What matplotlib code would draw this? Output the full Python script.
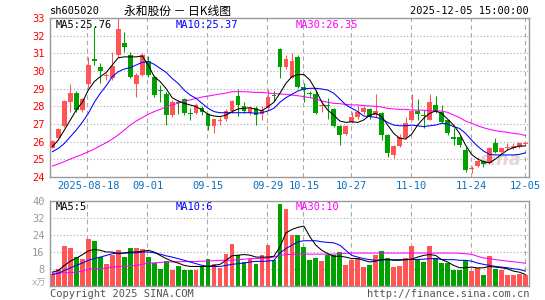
import matplotlib
matplotlib.use('Agg')
import matplotlib.pyplot as plt

plt.rcParams['font.family'] = ['DejaVu Sans Mono', 'Noto Sans CJK SC']

# daily candles 2025-08-08 .. 2025-12-05
opens = [25.66, 26.23, 26.9, 28.25, 28.74, 27.79, 29.25, 30.66, 30.2, 29.7,
         29.62, 30.9, 31.6, 30.9, 29.25, 29.77, 30.57, 29.68, 28.9, 28.68,
         27.5, 28.2, 28.42, 27.62, 27.6, 27.9, 27.55, 26.9, 27.15, 27.26,
         27.74, 28.6, 28.02, 27.6, 27.9, 27.57, 27.9, 28.6, 31.25, 30.25,
         29.62, 30.8, 29.1, 28.78, 28.7, 28.0, 28.06, 27.85, 26.9, 26.43,
         27.13, 27.4, 27.66, 27.85, 27.5, 27.64, 26.38, 25.25, 25.77, 26.19,
         27.23, 27.75, 27.5, 27.25, 28.07, 27.7, 27.2, 26.28, 26.24, 25.53,
         24.45, 24.64, 24.92, 24.8, 25.9, 25.4, 25.62, 25.66, 25.72, 25.85]
highs = [26.1, 26.8, 28.35, 29.25, 28.87, 28.47, 30.77, 32.5, 30.43, 29.9,
         31.1, 33.0, 32.2, 31.1, 29.9, 31.0, 30.87, 29.8, 29.2, 28.8,
         28.36, 28.36, 28.45, 27.9, 28.17, 28.0, 27.6, 27.3, 27.4, 27.83,
         28.36, 29.0, 28.27, 28.02, 28.0, 28.02, 29.0, 28.85, 31.28, 30.9,
         31.0, 30.9, 29.3, 28.87, 28.92, 28.3, 28.45, 27.9, 26.95, 26.95,
         27.7, 28.1, 28.0, 27.9, 28.7, 27.7, 26.45, 25.8, 26.45, 27.38,
         28.7, 28.4, 27.8, 28.7, 28.6, 28.1, 27.25, 26.75, 26.3, 25.72,
         24.6, 25.15, 24.95, 25.68, 26.2, 25.66, 25.9, 25.9, 25.96, 26.02]
lows = [25.62, 26.18, 26.85, 27.7, 27.7, 27.7, 29.02, 30.34, 29.3, 29.5,
        29.5, 30.8, 31.1, 29.6, 28.55, 29.7, 29.68, 28.55, 28.26, 26.94,
        27.4, 27.55, 27.5, 27.2, 27.55, 27.5, 26.66, 26.47, 26.95, 27.15,
        27.6, 27.47, 27.6, 27.5, 26.94, 27.2, 27.8, 28.3, 29.62, 30.1,
        29.58, 29.05, 28.22, 28.55, 27.57, 27.66, 27.3, 26.85, 25.8, 26.38,
        27.05, 27.3, 27.55, 27.3, 27.4, 26.1, 25.15, 25.1, 25.72, 26.15,
        27.2, 27.2, 26.76, 27.2, 27.65, 27.08, 26.4, 25.8, 25.7, 24.3,
        24.2, 24.58, 24.58, 24.75, 25.35, 25.35, 25.55, 25.6, 25.66, 25.8]
closes = [26.04, 26.72, 28.28, 28.74, 27.79, 28.42, 30.34, 30.57, 30.0, 29.8,
          30.3, 32.38, 31.38, 29.68, 29.8, 30.9, 29.8, 28.64, 28.87, 27.5,
          28.23, 28.17, 27.6, 27.58, 28.1, 27.7, 26.9, 27.28, 27.17, 27.75,
          28.3, 28.08, 27.75, 27.9, 27.5, 27.8, 28.55, 28.57, 30.2, 30.7,
          30.58, 29.1, 28.9, 28.72, 27.64, 28.04, 28.02, 26.9, 26.4, 26.9,
          27.4, 27.7, 27.9, 27.4, 27.73, 26.36, 25.34, 25.75, 26.28, 27.03,
          27.75, 27.57, 27.43, 28.26, 27.7, 27.13, 26.47, 26.13, 25.8, 24.4,
          24.47, 24.92, 24.72, 25.62, 25.4, 25.62, 25.66, 25.75, 25.9, 25.9]
volumes = [5.8, 8.1, 18.8, 17.8, 13.5, 12.9, 22.1, 21.2, 13.5, 10.2,
           14.5, 16.9, 13.5, 18.1, 18.1, 17.4, 13.5, 10.8, 8.2, 11.7,
           7.7, 9.5, 7.7, 7.7, 7.5, 9.2, 12.9, 10.3, 8.4, 15.2,
           20.0, 14.7, 11.2, 12.9, 10.2, 14.7, 19.2, 12.3, 38.7, 36.3,
           23.9, 23.9, 18.4, 12.2, 13.2, 11.6, 14.8, 14.4, 16.0, 9.7,
           12.1, 13.4, 8.9, 9.7, 14.4, 16.3, 13.4, 8.9, 9.2, 13.2,
           18.9, 12.5, 11.3, 18.9, 13.4, 10.6, 10.6, 7.7, 7.7, 12.4,
           6.9, 8.4, 5.3, 13.9, 7.9, 7.5, 5.2, 5.0, 5.5, 5.1]

ma5 = [25.72, 26.1, 26.66, 27.23, 27.8, 28.23, 28.92, 29.4, 29.68, 29.92,
       30.34, 30.75, 30.8, 30.8, 30.8, 30.85, 30.34, 29.68, 29.4, 29.0,
       28.49, 28.3, 28.17, 28.08, 27.98, 27.79, 27.55, 27.45, 27.42, 27.5,
       27.7, 27.85, 27.89, 27.92, 27.83, 27.75, 27.98, 28.23, 28.74, 29.3,
       29.68, 29.8, 29.8, 29.49, 28.92, 28.23, 27.79, 27.5, 27.17, 27.09,
       27.13, 27.09, 27.23, 27.5, 27.6, 27.42, 26.94, 26.47, 26.19, 26.15,
       26.42, 26.94, 27.32, 27.6, 27.74, 27.6, 27.28, 26.94, 26.47, 25.81,
       25.28, 25.02, 24.87, 24.8, 25.02, 25.28, 25.53, 25.66, 25.75, 25.76]
ma10 = [25.43, 25.62, 25.9, 26.28, 26.66, 27.1, 27.6, 28.23, 28.74, 29.17,
        29.68, 29.96, 30.11, 30.19, 30.34, 30.49, 30.53, 30.38, 30.15, 29.92,
        29.58, 29.3, 28.92, 28.64, 28.45, 28.17, 27.89, 27.7, 27.64, 27.64,
        27.64, 27.64, 27.64, 27.64, 27.6, 27.64, 27.74, 27.89, 28.23, 28.49,
        28.68, 28.87, 28.98, 29.02, 29.02, 28.98, 28.92, 28.74, 28.42, 28.08,
        27.89, 27.7, 27.45, 27.42, 27.38, 27.28, 27.09, 26.94, 26.9, 26.9,
        26.94, 26.9, 26.85, 26.9, 26.94, 27.04, 27.0, 26.85, 26.75, 26.47,
        26.09, 25.75, 25.47, 25.28, 25.25, 25.25, 25.25, 25.25, 25.28, 25.37]
ma30 = [24.62, 24.74, 24.87, 25.02, 25.15, 25.28, 25.43, 25.58, 25.77, 25.94,
        26.15, 26.38, 26.66, 26.94, 27.17, 27.36, 27.55, 27.7, 27.83, 27.98,
        28.08, 28.17, 28.3, 28.36, 28.45, 28.53, 28.58, 28.64, 28.7, 28.75,
        28.83, 28.83, 28.83, 28.81, 28.79, 28.79, 28.75, 28.72, 28.7, 28.68,
        28.64, 28.6, 28.55, 28.49, 28.42, 28.3, 28.23, 28.17, 28.15, 28.11,
        28.08, 28.08, 28.04, 28.02, 28.0, 27.96, 27.89, 27.85, 27.83, 27.83,
        27.79, 27.79, 27.78, 27.75, 27.75, 27.73, 27.66, 27.51, 27.36, 27.17,
        27.04, 26.9, 26.79, 26.7, 26.62, 26.57, 26.53, 26.47, 26.43, 26.35]

vma5 = [6.5, 7.3, 9.7, 11.7, 13.1, 14.7, 16.5, 17.2, 16.8, 16.0,
        16.0, 15.2, 15.5, 16.0, 16.0, 16.3, 16.8, 16.0, 14.4, 12.9,
        11.7, 10.8, 9.7, 9.2, 9.2, 9.2, 9.2, 9.7, 10.2, 12.1,
        14.2, 14.5, 14.8, 14.5, 13.6, 13.6, 13.6, 14.0, 18.4, 25.0,
        26.6, 27.6, 28.2, 23.2, 19.2, 16.8, 15.2, 14.0, 14.0, 13.6,
        12.9, 12.9, 12.1, 11.3, 11.7, 12.5, 12.5, 12.1, 12.1, 12.4,
        12.7, 13.6, 14.4, 14.8, 14.4, 12.4, 11.3, 9.7, 8.6, 8.6,
        8.9, 8.5, 8.6, 9.2, 8.9, 8.6, 8.1, 7.0, 6.5, 5.4]
vma10 = [5.4, 6.0, 7.3, 8.5, 9.7, 10.8, 12.1, 12.9, 13.6, 14.4,
         15.2, 15.5, 15.5, 15.6, 15.6, 16.0, 16.0, 15.6, 15.0, 14.2,
         13.6, 12.9, 12.1, 11.3, 10.5, 9.7, 9.2, 9.2, 9.2, 9.7,
         10.2, 10.5, 10.8, 11.3, 11.6, 11.6, 11.7, 12.1, 15.5, 17.6,
         19.2, 20.8, 21.3, 21.3, 21.3, 20.8, 20.5, 20.3, 19.2, 16.8,
         14.4, 13.6, 12.9, 12.4, 12.1, 12.1, 12.4, 12.4, 12.4, 12.4,
         12.5, 12.5, 12.6, 12.9, 12.9, 12.5, 12.4, 12.4, 12.1, 12.1,
         11.7, 10.8, 10.2, 9.7, 9.2, 8.9, 8.6, 8.1, 7.8, 7.0]
vma30 = [6.0, 6.1, 6.2, 6.3, 6.5, 7.0, 7.9, 8.1, 8.2, 8.4,
         8.9, 9.2, 9.2, 9.5, 9.7, 10.2, 10.8, 10.9, 11.1, 11.3,
         11.3, 11.4, 11.5, 11.5, 11.5, 11.7, 11.7, 11.9, 12.1, 12.1,
         12.1, 12.4, 12.6, 12.9, 12.9, 12.9, 13.2, 13.6, 14.4, 14.8,
         14.9, 15.0, 15.0, 15.0, 15.0, 15.0, 15.0, 15.0, 15.2, 15.4,
         15.5, 15.5, 15.5, 15.5, 15.5, 15.5, 15.5, 15.5, 15.5, 15.5,
         15.5, 15.5, 15.5, 15.5, 15.5, 15.5, 15.5, 15.5, 15.4, 15.2,
         14.9, 14.0, 13.2, 12.9, 12.4, 12.1, 11.7, 11.4, 11.1, 10.7]

tick_pos = [6, 16, 26, 36, 42, 50, 60, 70, 79]
tick_labels = ['2025-08-18', '09-01', '09-15', '09-29', '10-15', '10-27', '11-10', '11-24', '12-05']
price_ticks = [24, 25, 26, 27, 28, 29, 30, 31, 32, 33]
vol_ticks = [8, 16, 24, 32, 40]

RED = '#ff5555'
GREEN = '#00a000'
GRID = '#aaaaaa'

W, H = 545, 300
fig = plt.figure(figsize=(W / 100, H / 100), dpi=100)


def box(x0, y0, x1, y1):
    return [x0 / W, 1 - y1 / H, (x1 - x0) / W, (y1 - y0) / H]


ax = fig.add_axes(box(50, 18, 529, 177))
axv = fig.add_axes(box(50, 201, 529, 286))

n = len(closes)
idx = list(range(n))
up = [c >= o for o, c in zip(opens, closes)]
colors = [RED if u else GREEN for u in up]

for a in (ax, axv):
    a.set_xlim(-0.4, 79.6)
    for s in a.spines.values():
        s.set_color('#999999')
        s.set_linewidth(1)
    for p in tick_pos:
        a.axvline(p - 0.15, color=GRID, lw=0.8, ls=(0, (4, 3)), zorder=0)

# price panel
ax.set_ylim(24, 33)
for v in price_ticks[1:-1]:
    ax.axhline(v, color=GRID, lw=0.8, ls=(0, (1, 2)), zorder=0)
ax.vlines(idx, lows, highs, colors=colors, lw=0.75, zorder=2)
bottoms = [min(o, c) for o, c in zip(opens, closes)]
heights = [max(abs(c - o), 0.05) for o, c in zip(opens, closes)]
ax.bar(idx, heights, bottom=bottoms, width=0.8, color=colors, lw=0, zorder=3)
ax.plot(idx, ma30, color='#ff00ff', lw=0.75, zorder=4)
ax.plot(idx, ma10, color='#0000ff', lw=0.75, zorder=4)
ax.plot(idx, ma5, color='black', lw=0.75, zorder=4)
ax.set_yticks(price_ticks)
ax.set_yticklabels([str(v) for v in price_ticks])
ax.tick_params(axis='y', length=0, labelcolor='red', labelsize=7.5, pad=4)
ax.set_xticks(tick_pos)
ax.set_xticklabels(tick_labels)
ax.tick_params(axis='x', length=0, labelcolor='#0a70c0', labelsize=7.5, pad=3)

ax.text(0.012, 0.985, 'MA5:%.2f' % ma5[-1], transform=ax.transAxes, color='black',
        fontsize=7.5, va='top', ha='left')
ax.text(0.262, 0.985, 'MA10:%.2f' % ma10[-1], transform=ax.transAxes, color='#0000ff',
        fontsize=7.5, va='top', ha='left')
ax.text(0.512, 0.985, 'MA30:%.2f' % ma30[-1], transform=ax.transAxes, color='#ff00ff',
        fontsize=7.5, va='top', ha='left')
ax.text(0.985, 0.05, 'sina', transform=ax.transAxes, color='#e6d6d6', fontsize=13,
        fontstyle='italic', fontweight='bold', family='DejaVu Sans', ha='right', va='bottom',
        zorder=1)

# volume panel
axv.set_ylim(0, 40)
for v in vol_ticks[:-1]:
    axv.axhline(v, color=GRID, lw=0.8, ls=(0, (1, 2)), zorder=0)
axv.bar(idx, volumes, width=0.8, color=colors, lw=0, zorder=2)
axv.plot(idx, vma30, color='#ff00ff', lw=0.75, zorder=4)
axv.plot(idx, vma10, color='#0000ff', lw=0.75, zorder=4)
axv.plot(idx, vma5, color='black', lw=0.75, zorder=4)
axv.set_yticks(vol_ticks)
axv.set_yticklabels([str(v) for v in vol_ticks])
axv.tick_params(axis='y', length=0, labelcolor='#999999', labelsize=7.5, pad=4)
axv.set_xticks([])
axv.text(0.012, 0.985, 'MA5:5', transform=axv.transAxes, color='black',
         fontsize=7.5, va='top', ha='left')
axv.text(0.262, 0.985, 'MA10:6', transform=axv.transAxes, color='#0000ff',
         fontsize=7.5, va='top', ha='left')
axv.text(0.512, 0.985, 'MA30:10', transform=axv.transAxes, color='#ff00ff',
         fontsize=7.5, va='top', ha='left')

# header and footer
fig.text(50 / W, 1 - 11 / H, 'sh605020', fontsize=7.5, color='black', va='center', ha='left')
fig.text(178 / W, 1 - 11 / H, '永和股份 － 日K线图', fontsize=8.5, color='black',
         va='center', ha='center', family=['Noto Sans CJK SC', 'DejaVu Sans'])
fig.text(529 / W, 1 - 11 / H, '2025-12-05 15:00:00', fontsize=7.5, color='black',
         va='center', ha='right')
fig.text(46 / W, 1 - 283 / H, 'x万', fontsize=6.5, color='#aaaaaa', va='center', ha='right',
         family=['DejaVu Sans', 'Noto Sans CJK SC'])
fig.text(50 / W, 1 - 294 / H, 'Copyright 2025 SINA.COM', fontsize=7.5, color='#555555',
         va='center', ha='left')
fig.text(529 / W, 1 - 294 / H, 'http://finance.sina.com.cn', fontsize=7.5, color='#555555',
         va='center', ha='right')

fig.savefig('out.png', dpi=100)
